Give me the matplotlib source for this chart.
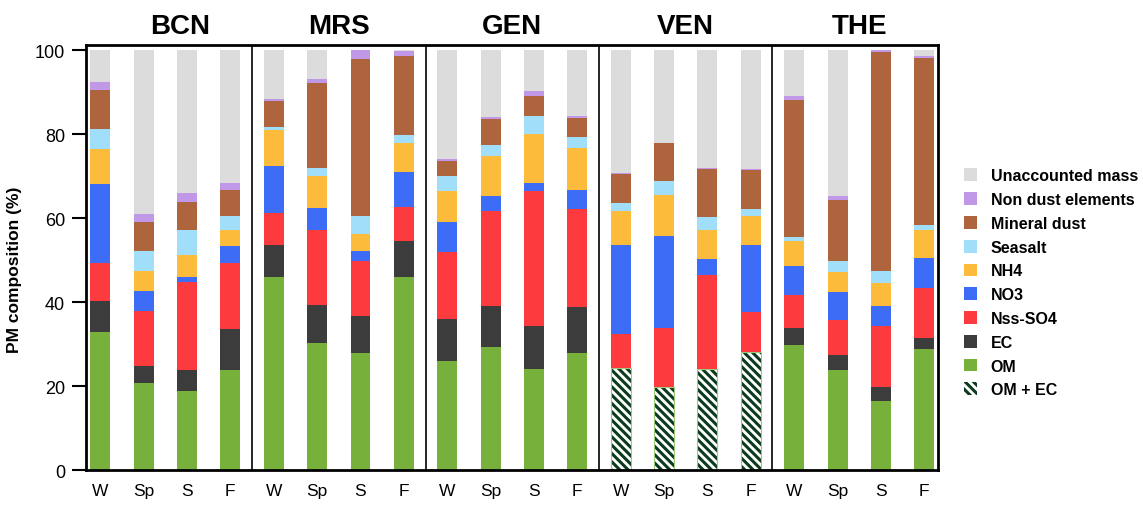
"""
Seasonal PM composition by site (BCN, MRS, GEN, VEN, THE) as stacked bars.
"""

import numpy as np
import matplotlib
matplotlib.use("Agg")
import matplotlib.pyplot as plt
from matplotlib.patches import Patch

plt.rcParams["font.family"] = ["Liberation Sans", "DejaVu Sans"]
plt.rcParams["hatch.linewidth"] = 2.2

sites = ["BCN", "MRS", "GEN", "VEN", "THE"]
seasons = ["W", "Sp", "S", "F"]

# one value per bar, 20 bars = 5 sites x 4 seasons (W, Sp, S, F)
om = [32.9, 20.9, 18.9, 23.9,  46.0, 30.4, 28.0, 46.0,  26.0, 29.4, 24.1, 27.9,
      0, 0, 0, 0,  29.8, 23.9, 16.6, 28.8]
ec = [7.3, 3.9, 5.1, 9.7,  7.6, 9.0, 8.8, 8.7,  10.0, 9.7, 10.3, 11.1,
      0, 0, 0, 0,  4.2, 3.5, 3.2, 2.8]
om_ec = [0, 0, 0, 0,  0, 0, 0, 0,  0, 0, 0, 0,
         24.3, 19.8, 24.2, 28.3,  0, 0, 0, 0]
nss_so4 = [9.2, 13.1, 20.9, 15.8,  7.7, 17.7, 13.1, 8.0,  15.9, 22.6, 32.0, 23.3,
           8.2, 14.2, 22.3, 9.5,  7.7, 8.3, 14.6, 11.7]
no3 = [18.7, 4.7, 1.1, 3.9,  11.2, 5.3, 2.2, 8.4,  7.1, 3.6, 2.0, 4.4,
       21.2, 21.8, 3.8, 15.9,  6.9, 6.7, 4.7, 7.3]
nh4 = [8.3, 4.9, 5.3, 3.9,  8.5, 7.7, 4.2, 6.8,  7.4, 9.4, 11.6, 10.1,
       8.0, 9.8, 6.8, 6.8,  5.9, 4.9, 5.6, 6.6]
seasalt = [4.8, 4.6, 5.8, 3.3,  0.8, 1.8, 4.2, 2.0,  3.6, 2.8, 4.3, 2.6,
           2.0, 3.3, 3.3, 1.6,  1.1, 2.5, 2.8, 1.1]
mineral_dust = [9.3, 7.1, 6.8, 6.2,  6.0, 20.2, 37.4, 18.8,  3.5, 6.1, 4.7, 4.4,
                6.9, 8.9, 11.3, 9.4,  32.6, 14.6, 52.1, 39.8]
non_dust = [1.8, 1.8, 2.2, 1.6,  0.5, 1.1, 2.1, 1.0,  0.5, 0.4, 1.2, 0.5,
            0.1, 0.1, 0.3, 0.1,  0.8, 0.8, 0.4, 0.6]
unaccounted = [7.7, 39.0, 33.9, 31.7,  11.7, 6.8, 0.0, 0.3,  26.0, 16.0, 9.8, 15.7,
               29.3, 22.1, 28.0, 28.4,  11.0, 34.8, 0.0, 1.3]

# (label, values, colour) from bottom of the stack to the top
layers = [
    ("OM + EC", om_ec, None),
    ("OM", om, "#78b03c"),
    ("EC", ec, "#3c3c3c"),
    ("Nss-SO4", nss_so4, "#fd3b3f"),
    ("NO3", no3, "#3d6cf7"),
    ("NH4", nh4, "#fdbb3b"),
    ("Seasalt", seasalt, "#a0defa"),
    ("Mineral dust", mineral_dust, "#ae653d"),
    ("Non dust elements", non_dust, "#c198e8"),
    ("Unaccounted mass", unaccounted, "#dcdcdc"),
]
hatch_col = "#0b3b1c"
hatch = "\\" * 4

x = np.arange(len(sites) * len(seasons))
width = 0.46

fig = plt.figure(figsize=(11.43, 5.10), dpi=100)
ax = fig.add_axes([0.0752, 0.0755, 0.7452, 0.8343])

bottom = np.zeros(len(x))
for label, vals, col in layers:
    vals = np.asarray(vals, dtype=float)
    if col is None:
        ax.bar(x, vals, width, bottom=bottom, facecolor="white",
               edgecolor=hatch_col, linewidth=0, hatch=hatch)
        # thin light-green outline round the hatched part
        ax.bar(x, vals, width, bottom=bottom, fill=False,
               edgecolor="#9cc97a", linewidth=0.8)
    else:
        ax.bar(x, vals, width, bottom=bottom, color=col, linewidth=0)
    bottom += vals

# site separators
for sep in np.arange(len(seasons), len(x), len(seasons)) - 0.5:
    ax.axvline(sep, color="black", linewidth=1.2)

ax.set_xlim(-0.33, len(x) - 1 + 0.31)
ax.set_ylim(0, 101.2)
ax.set_yticks(np.arange(0, 101, 20))
ax.set_xticks(x)
ax.set_xticklabels(seasons * len(sites))
ax.tick_params(axis="y", length=10, width=1.5, labelsize=13, pad=5)
ax.tick_params(axis="x", length=0, labelsize=12.5, pad=9)
for sp in ax.spines.values():
    sp.set_linewidth(2)
ax.set_ylabel("PM composition (%)", fontsize=12.5, fontweight="bold")
ax.yaxis.set_label_coords(-0.075, 0.474)

# site names above each group
title_x = [1.85, 5.5, 9.5, 13.5, 17.5]
for tx, name in zip(title_x, sites):
    ax.text(tx, 105.8, name, ha="center", va="center", fontsize=20,
            fontweight="bold", clip_on=False)

# legend, top entry first
handles = []
for label, vals, col in layers[::-1]:
    if col is None:
        handles.append(Patch(facecolor="white", edgecolor=hatch_col,
                             linewidth=0, hatch=hatch, label=label))
    else:
        handles.append(Patch(facecolor=col, linewidth=0, label=label))
fig.legend(handles=handles, loc="upper left", bbox_to_anchor=(0.843, 0.668),
           frameon=False, labelspacing=0.55, handlelength=0.85,
           handleheight=0.85, handletextpad=0.85, borderpad=0, borderaxespad=0,
           prop={"weight": "bold", "size": 11.5})

fig.savefig("out.png", dpi=100, facecolor="white")
